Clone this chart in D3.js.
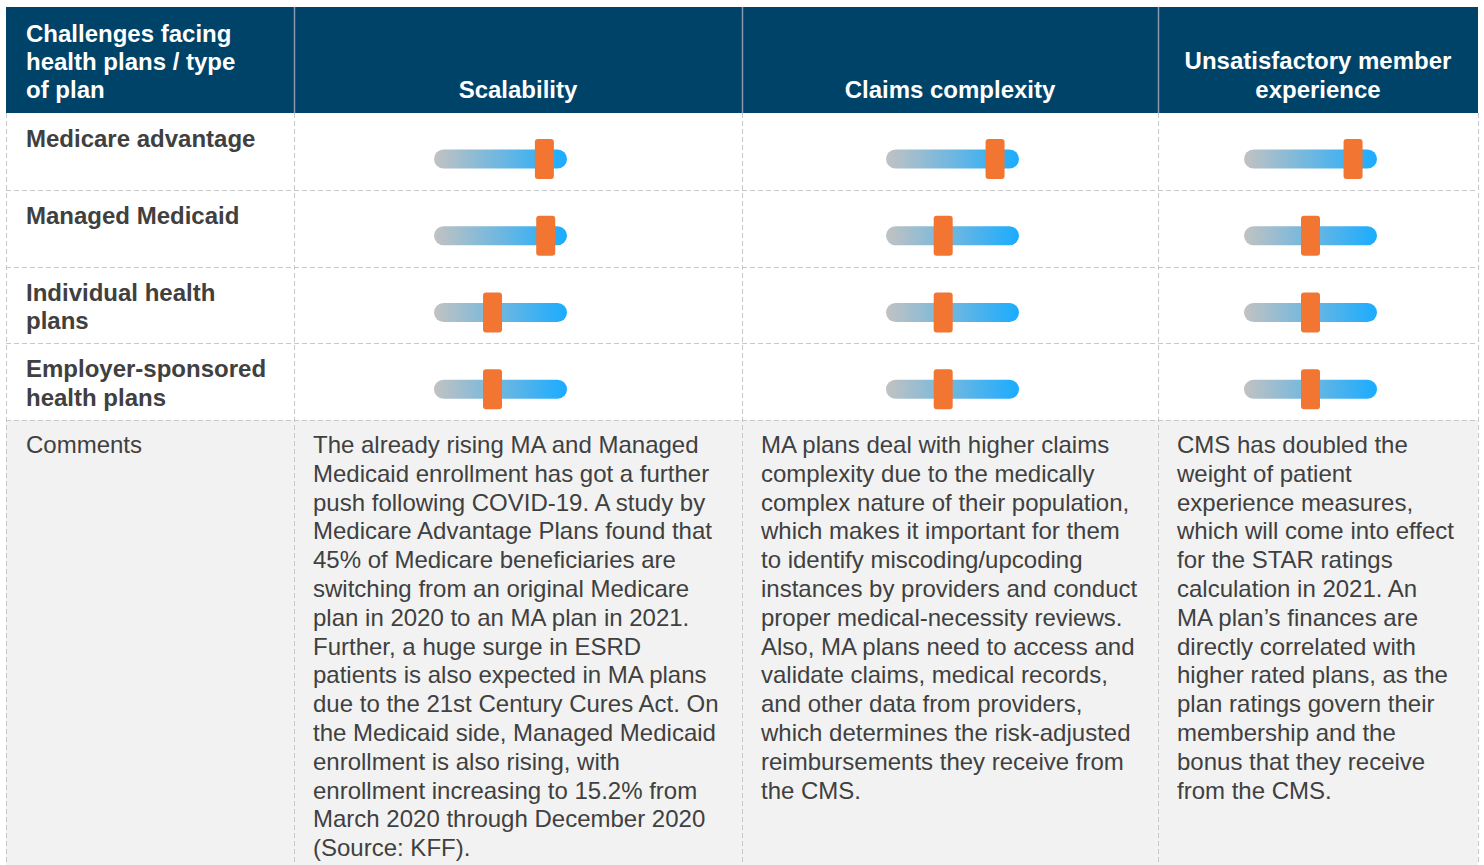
<!DOCTYPE html>
<html>
<head>
<meta charset="utf-8">
<script src="https://cdn.jsdelivr.net/npm/d3@7"></script>
<style>
  html, body { margin: 0; padding: 0; background: #ffffff; }
  svg { display: block; font-family: "Liberation Sans", Arial, Helvetica, sans-serif; }
</style>
</head>
<body>
<svg id="chart" width="1484" height="865"></svg>
<script>
// ---------------- DATA ----------------
const cornerHeader = ["Challenges facing", "health plans / type", "of plan"];
const challenges = ["Scalability", "Claims complexity", "Unsatisfactory member experience"];
const challengeHeaderLines = [["Scalability"], ["Claims complexity"], ["Unsatisfactory member", "experience"]];
const plans = ["Medicare advantage", "Managed Medicaid", "Individual health plans", "Employer-sponsored health plans"];
const planLabelLines = [["Medicare advantage"], ["Managed Medicaid"], ["Individual health", "plans"], ["Employer-sponsored", "health plans"]];
// slider level (0-100) per challenge, one value per plan (order as in `plans`)
const scalabilityLevel = [83, 84, 44, 44];
const claimsLevel = [82, 43, 43, 43];
const memberLevel = [82, 50, 50, 50];
const commentsLabel = "Comments";
const scalabilityComment = [
  "The already rising MA and Managed",
  "Medicaid enrollment has got a further",
  "push following COVID-19. A study by",
  "Medicare Advantage Plans found that",
  "45% of Medicare beneficiaries are",
  "switching from an original Medicare",
  "plan in 2020 to an MA plan in 2021.",
  "Further, a huge surge in ESRD",
  "patients is also expected in MA plans",
  "due to the 21st Century Cures Act. On",
  "the Medicaid side, Managed Medicaid",
  "enrollment is also rising, with",
  "enrollment increasing to 15.2% from",
  "March 2020 through December 2020",
  "(Source: KFF)."
];
const claimsComment = [
  "MA plans deal with higher claims",
  "complexity due to the medically",
  "complex nature of their population,",
  "which makes it important for them",
  "to identify miscoding/upcoding",
  "instances by providers and conduct",
  "proper medical-necessity reviews.",
  "Also, MA plans need to access and",
  "validate claims, medical records,",
  "and other data from providers,",
  "which determines the risk-adjusted",
  "reimbursements they receive from",
  "the CMS."
];
const memberComment = [
  "CMS has doubled the",
  "weight of patient",
  "experience measures,",
  "which will come into effect",
  "for the STAR ratings",
  "calculation in 2021. An",
  "MA plan\u2019s finances are",
  "directly correlated with",
  "higher rated plans, as the",
  "plan ratings govern their",
  "membership and the",
  "bonus that they receive",
  "from the CMS."
];

// ---------------- LAYOUT ----------------
const levels = [scalabilityLevel, claimsLevel, memberLevel];
const comments = [scalabilityComment, claimsComment, memberComment];

const L = {
  left: 6, right: 1478, top: 7, headerBottom: 113, rowsBottom: 420, bottom: 865,
  colEdges: [6, 294, 742, 1158, 1478],
  trackLeftOffset: [140, 144, 86],   // track start relative to column left edge
  trackWidth: 133, trackHeight: 19, thumbW: 19, thumbH: 40,
  textPad: 20, lineH: 28.8, fontSize: 24
};
const colors = {
  header: "#004368", headerDivider: "#8799aa", text: "#404040",
  grid: "#c8c8c8", commentBg: "#f2f2f2", thumb: "#f37532",
  trackFrom: "#c2c2c2", trackTo: "#1aacff"
};

const svg = d3.select("#chart");

// gradient for the slider track
const defs = svg.append("defs");
const grad = defs.append("linearGradient").attr("id", "trackGrad")
  .attr("x1", "0%").attr("x2", "100%").attr("y1", "0%").attr("y2", "0%");
grad.append("stop").attr("offset", "0%").attr("stop-color", colors.trackFrom);
grad.append("stop").attr("offset", "100%").attr("stop-color", colors.trackTo);

// row scale
const y = d3.scaleBand().domain(plans).range([L.headerBottom, L.rowsBottom]).padding(0);

// comment row background
svg.append("rect")
  .attr("x", L.left).attr("y", L.rowsBottom)
  .attr("width", L.right - L.left).attr("height", L.bottom - L.rowsBottom)
  .attr("fill", colors.commentBg);

// header
svg.append("rect")
  .attr("x", L.left).attr("y", L.top)
  .attr("width", L.right - L.left).attr("height", L.headerBottom - L.top)
  .attr("fill", colors.header);

// header dividers
svg.selectAll("line.hdiv").data(L.colEdges.slice(1, -1)).enter().append("line")
  .attr("class", "hdiv")
  .attr("x1", d => d + 0.5).attr("x2", d => d + 0.5)
  .attr("y1", L.top).attr("y2", L.headerBottom)
  .attr("stroke", colors.headerDivider).attr("stroke-width", 1.5);

// grid: horizontal dashed lines
const hLines = plans.map(p => y(p) + y.bandwidth()).map(v => Math.round(v));
svg.selectAll("line.hgrid").data(hLines).enter().append("line")
  .attr("class", "hgrid")
  .attr("x1", L.left).attr("x2", L.right)
  .attr("y1", d => d + 0.5).attr("y2", d => d + 0.5)
  .attr("stroke", colors.grid).attr("stroke-width", 1).attr("stroke-dasharray", "5,3");

// grid: vertical dashed lines
svg.selectAll("line.vgrid").data(L.colEdges).enter().append("line")
  .attr("class", "vgrid")
  .attr("x1", d => d + 0.5).attr("x2", d => d + 0.5)
  .attr("y1", L.headerBottom).attr("y2", L.bottom)
  .attr("stroke", colors.grid).attr("stroke-width", 1).attr("stroke-dasharray", "5,3");

// helper: multi-line text
function multiText(g, lines, x, yFirst, opts) {
  const t = g.append("text")
    .attr("x", x).attr("y", yFirst)
    .attr("font-size", L.fontSize)
    .attr("font-weight", opts.bold ? "bold" : "normal")
    .attr("fill", opts.fill)
    .attr("text-anchor", opts.anchor || "start");
  t.selectAll("tspan").data(lines).enter().append("tspan")
    .attr("x", x)
    .attr("dy", (d, i) => i === 0 ? 0 : opts.lineH)
    .text(d => d);
  return t;
}

// header texts
multiText(svg, cornerHeader, L.colEdges[0] + L.textPad, 42, { bold: true, fill: "#ffffff", lineH: 28 });
challengeHeaderLines.forEach((lines, i) => {
  const cx = (L.colEdges[i + 1] + L.colEdges[i + 2]) / 2;
  const lastBaseline = 98;
  multiText(svg, lines, cx, lastBaseline - (lines.length - 1) * 29,
    { bold: true, fill: "#ffffff", lineH: 29, anchor: "middle" });
});

// row labels
plans.forEach((p, i) => {
  multiText(svg, planLabelLines[i], L.colEdges[0] + L.textPad, y(p) + 34,
    { bold: true, fill: colors.text, lineH: 28.5 });
});

// sliders
challenges.forEach((c, ci) => {
  const x0 = L.colEdges[ci + 1] + L.trackLeftOffset[ci];
  const xs = d3.scaleLinear().domain([0, 100]).range([x0, x0 + L.trackWidth]);
  const g = svg.append("g").attr("class", "slider-col");
  const rows = g.selectAll("g.slider").data(plans.map((p, pi) => ({ plan: p, v: levels[ci][pi] })))
    .enter().append("g").attr("class", "slider");
  const cy = d => y(d.plan) + 46;
  rows.append("rect")
    .attr("x", xs(0)).attr("y", d => cy(d) - L.trackHeight / 2)
    .attr("width", xs(100) - xs(0)).attr("height", L.trackHeight)
    .attr("rx", L.trackHeight / 2).attr("ry", L.trackHeight / 2)
    .attr("fill", "url(#trackGrad)");
  rows.append("rect")
    .attr("x", d => xs(d.v) - L.thumbW / 2).attr("y", d => cy(d) - L.thumbH / 2)
    .attr("width", L.thumbW).attr("height", L.thumbH)
    .attr("rx", 3).attr("ry", 3)
    .attr("fill", colors.thumb);
});

// comments row
const commentBaseline = L.rowsBottom + 33;
multiText(svg, [commentsLabel], L.colEdges[0] + L.textPad, commentBaseline, { bold: false, fill: colors.text, lineH: L.lineH });
comments.forEach((lines, ci) => {
  multiText(svg, lines, L.colEdges[ci + 1] + 19, commentBaseline, { bold: false, fill: colors.text, lineH: L.lineH });
});
</script>
</body>
</html>
